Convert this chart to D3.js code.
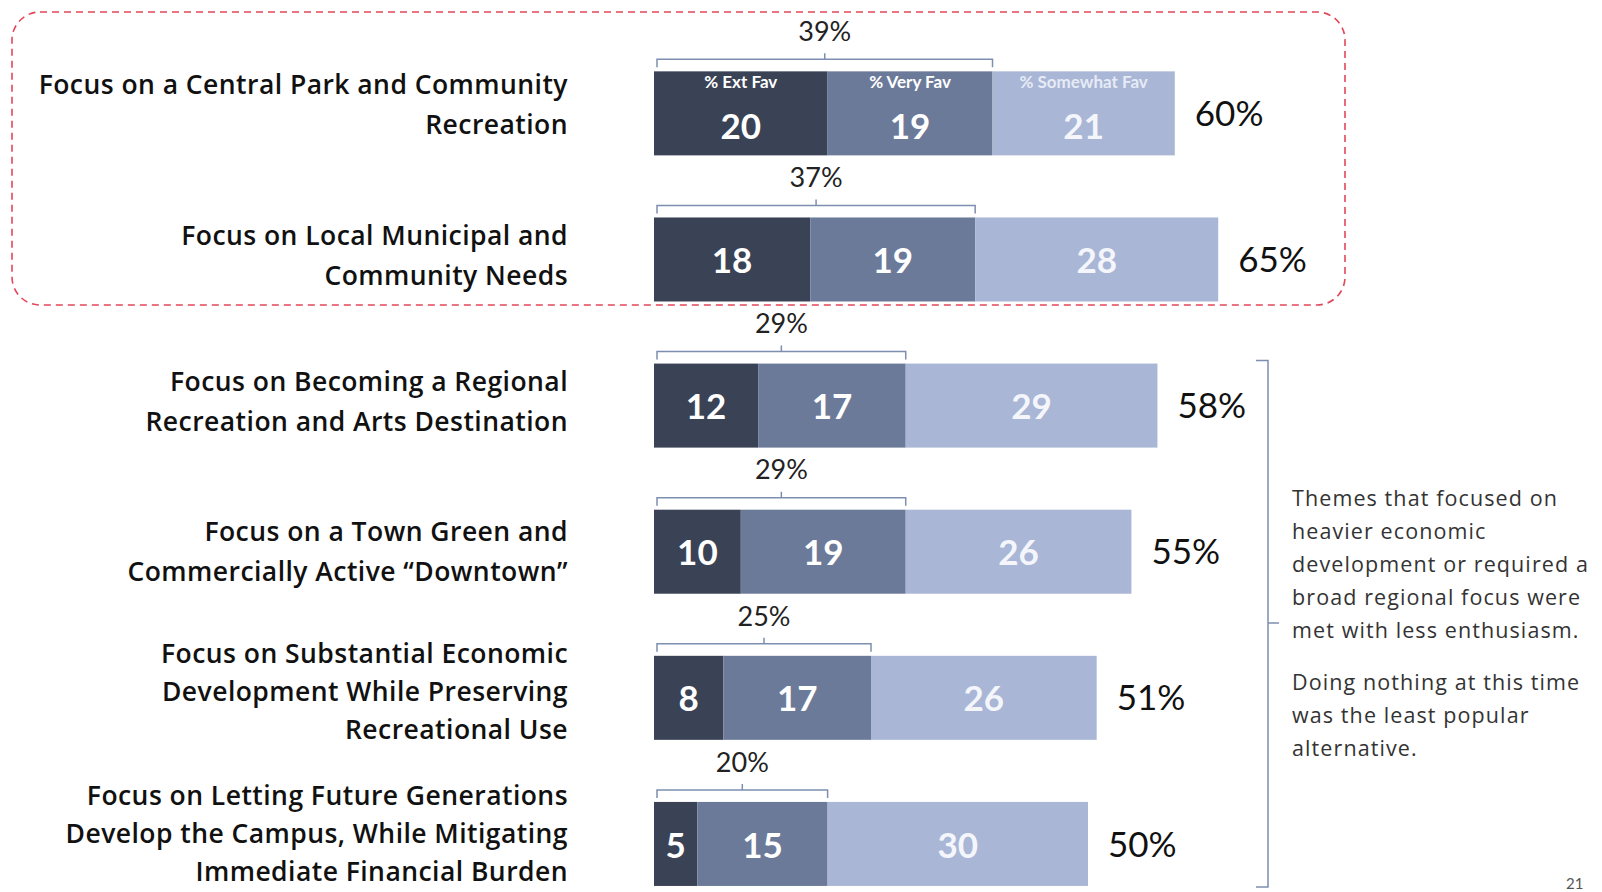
<!DOCTYPE html>
<html>
<head>
<meta charset="utf-8">
<script src="https://cdn.jsdelivr.net/npm/d3@7"></script>
<style>
  body { margin: 0; background: #fff; }
  svg { display: block; }
</style>
</head>
<body>
<div id="chart"></div>
<script>
const width = 1602
const height = 892

// data
const themes = [
  ["Focus on a Central Park and Community", "Recreation"],
  ["Focus on Local Municipal and", "Community Needs"],
  ["Focus on Becoming a Regional", "Recreation and Arts Destination"],
  ["Focus on a Town Green and", "Commercially Active \u201cDowntown\u201d"],
  ["Focus on Substantial Economic", "Development While Preserving", "Recreational Use"],
  ["Focus on Letting Future Generations", "Develop the Campus, While Mitigating", "Immediate Financial Burden"]
]
const seriesNames = ["% Ext Fav", "% Very Fav", "% Somewhat Fav"]
const extFav = [20, 18, 12, 10, 8, 5]
const veryFav = [19, 19, 17, 19, 17, 15]
const somewhatFav = [21, 28, 29, 26, 26, 30]
const topTwo = [39, 37, 29, 29, 25, 20]
const totals = [60, 65, 58, 55, 51, 50]
const noteLines = [
  ["Themes that focused on", "heavier economic", "development or required a", "broad regional focus were", "met with less enthusiasm."],
  ["Doing nothing at this time", "was the least popular", "alternative."]
]

const colors = ["#3a4256", "#6c7a9a", "#a9b6d6"]
const labelFont = "Lato, 'Open Sans', sans-serif"
const themeFont = "'Open Sans', Lato, sans-serif"

const rows = themes.map((t, i) => ({
  i: i,
  lines: t,
  vals: [extFav[i], veryFav[i], somewhatFav[i]],
  top2: topTwo[i],
  total: totals[i]
}))

const x = d3.scaleLinear()
  .domain([0, 65])
  .range([654, 654 + 65 * 8.68])

const y = d3.scaleBand()
  .domain(rows.map(d => d.i))
  .range([40.3, 917])
  .paddingInner(0.425)
  .paddingOuter(0.2125)

const svg = d3.select("#chart")
  .append("svg")
  .attr("width", width)
  .attr("height", height)
  .attr("viewBox", [0, 0, width, height])

// dashed box round the two favourite themes
svg.append("rect")
  .attr("x", 12)
  .attr("y", 12)
  .attr("width", 1333)
  .attr("height", 293)
  .attr("rx", 28)
  .attr("fill", "none")
  .attr("stroke", "#e2475a")
  .attr("stroke-width", 1.6)
  .attr("stroke-dasharray", "7 5")

const row = svg.selectAll("g.row")
  .data(rows)
  .join("g")
  .attr("class", "row")

// label blocks don't sit exactly on the bar centre in the slide
const labelNudge = [-9, -4, -4, 0, -6, -10]

// theme labels, right aligned
row.append("text")
  .attr("text-anchor", "end")
  .attr("font-family", themeFont)
  .attr("font-weight", 600)
  .attr("font-size", 26.5)
  .attr("letter-spacing", 0.45)
  .attr("fill", "#111")
  .each(function(d) {
    const n = d.lines.length
    const cy = y(d.i) + y.bandwidth() / 2 + labelNudge[d.i]
    const lh = n === 3 ? 38 : 39.5
    d3.select(this).selectAll("tspan")
      .data(d.lines)
      .join("tspan")
      .attr("x", 568)
      .attr("y", (l, k) => cy + (k - (n - 1) / 2) * lh)
      .attr("dy", "0.36em")
      .text(l => l)
  })

// stacked segments
const segs = row.selectAll("g.seg")
  .data(d => {
    let acc = 0
    return d.vals.map((v, k) => {
      const s = {row: d.i, k: k, v: v, x0: acc, x1: acc + v}
      acc += v
      return s
    })
  })
  .join("g")
  .attr("class", "seg")

segs.append("rect")
  .attr("x", s => x(s.x0))
  .attr("y", s => y(s.row))
  .attr("width", s => x(s.x1) - x(s.x0))
  .attr("height", y.bandwidth())
  .attr("fill", s => colors[s.k])

segs.append("text")
  .attr("x", s => (x(s.x0) + x(s.x1)) / 2)
  .attr("y", s => y(s.row) + y.bandwidth() / 2 + (s.row === 0 ? 13 : 1))
  .attr("dy", "0.36em")
  .attr("text-anchor", "middle")
  .attr("font-family", labelFont)
  .attr("font-weight", 700)
  .attr("font-size", 35)
  .attr("fill", s => s.k === 2 ? "#f4f6fb" : "#fff")
  .text(s => s.v)

// series names inside the first bar
segs.filter(s => s.row === 0)
  .append("text")
  .attr("x", s => (x(s.x0) + x(s.x1)) / 2)
  .attr("y", s => y(s.row) + 11)
  .attr("dy", "0.36em")
  .attr("text-anchor", "middle")
  .attr("font-family", labelFont)
  .attr("font-weight", 700)
  .attr("font-size", 17)
  .attr("fill", s => s.k === 2 ? "#e6ebf5" : "#fff")
  .text(s => seriesNames[s.k])

// bracket over ext + very fav
const bracket = d => {
  const x0 = x(0) + 3
  const x1 = x(d.vals[0] + d.vals[1])
  const yb = y(d.i) - 12
  const xm = (x0 + x1) / 2
  return `M${x0},${yb + 8}V${yb}H${x1}V${yb + 8}M${xm},${yb}V${yb - 6}`
}

row.append("path")
  .attr("d", bracket)
  .attr("fill", "none")
  .attr("stroke", "#7d8fb0")
  .attr("stroke-width", 1.5)

row.append("text")
  .attr("x", d => (x(0) + 3 + x(d.vals[0] + d.vals[1])) / 2)
  .attr("y", d => y(d.i) - 40)
  .attr("dy", "0.36em")
  .attr("text-anchor", "middle")
  .attr("font-family", labelFont)
  .attr("font-size", 27)
  .attr("fill", "#222")
  .text(d => d.top2 + "%")

// totals
row.append("text")
  .attr("x", d => x(d.total) + 20)
  .attr("y", d => y(d.i) + y.bandwidth() / 2)
  .attr("dy", "0.36em")
  .attr("font-family", labelFont)
  .attr("font-size", 35)
  .attr("fill", "#111")
  .text(d => d.total + "%")

// right-hand brace over the four weaker themes
const bTop = y(2) - 3
const bBot = y(5) + y.bandwidth() + 1
const bMid = 623
svg.append("path")
  .attr("d", `M1256,${bTop}H1268V${bBot}H1256M1268,${bMid}H1279`)
  .attr("fill", "none")
  .attr("stroke", "#7d8fb0")
  .attr("stroke-width", 1.5)

const note = svg.append("g")
  .attr("font-family", themeFont)
  .attr("font-size", 21.5)
  .attr("letter-spacing", 1.1)
  .attr("fill", "#333")

note.append("text")
  .selectAll("tspan")
  .data(noteLines[0])
  .join("tspan")
  .attr("x", 1292)
  .attr("y", (l, k) => 498 + k * 33)
  .attr("dy", "0.36em")
  .text(l => l)

note.append("text")
  .selectAll("tspan")
  .data(noteLines[1])
  .join("tspan")
  .attr("x", 1292)
  .attr("y", (l, k) => 682 + k * 33)
  .attr("dy", "0.36em")
  .text(l => l)

// page number in the corner
svg.append("text")
  .attr("x", 1566)
  .attr("y", 889)
  .attr("font-family", labelFont)
  .attr("font-size", 15)
  .attr("fill", "#555")
  .text("21")
</script>
</body>
</html>
